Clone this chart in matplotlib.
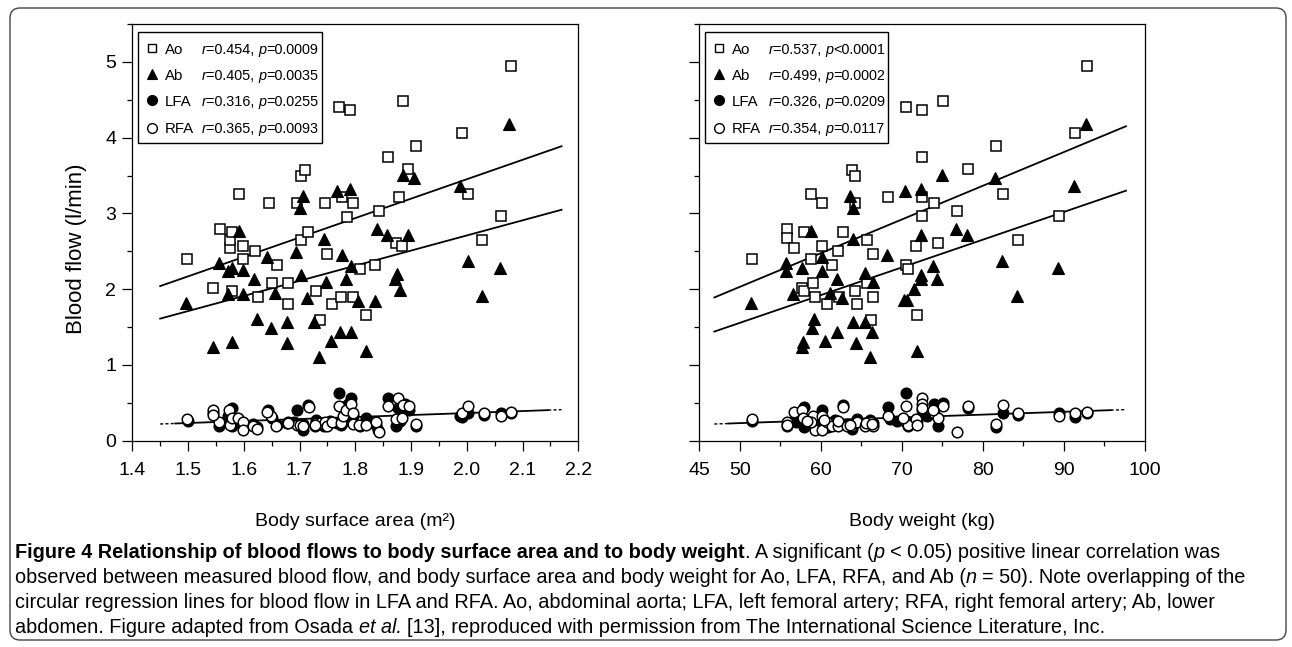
import matplotlib
matplotlib.use("Agg")
import matplotlib.pyplot as plt
from matplotlib.patches import FancyBboxPatch, Rectangle
from matplotlib.transforms import IdentityTransform
from matplotlib.ticker import MultipleLocator, FixedLocator, FormatStrFormatter
import numpy as np

FONT = "Liberation Sans"

# ---- body surface area panel (m2) ----
ao_bsa_x = [1.499, 1.545, 1.558, 1.575, 1.592, 1.599, 1.599, 1.620, 1.625, 1.646,
            1.650, 1.659, 1.679, 1.679, 1.695, 1.703, 1.709, 1.703, 1.716, 1.729,
            1.737, 1.746, 1.750, 1.758, 1.770, 1.790, 1.777, 1.795, 1.786, 1.774,
            1.795, 1.808, 1.820, 1.836, 1.842, 1.858, 1.878, 1.873, 1.883, 1.886,
            1.895, 1.908, 1.991, 2.003, 2.028, 2.061, 2.079, 1.575, 1.579, 1.579]
ao_bsa_y = [2.40, 2.01, 2.79, 2.54, 3.25, 2.57, 2.40, 2.51, 1.90, 3.14,
            2.08, 2.32, 2.08, 1.81, 3.14, 3.49, 3.57, 2.65, 2.75, 1.98,
            1.59, 3.14, 2.47, 1.81, 4.41, 4.37, 3.21, 3.14, 2.95, 1.90,
            1.90, 2.27, 1.66, 2.32, 3.03, 3.74, 3.21, 2.61, 2.57, 4.48,
            3.59, 3.89, 4.06, 3.25, 2.65, 2.96, 4.95, 2.65, 1.98, 2.76]

ab_bsa_x = [1.497, 1.544, 1.556, 1.572, 1.578, 1.572, 1.591, 1.578, 1.598, 1.598,
            1.618, 1.623, 1.642, 1.648, 1.656, 1.677, 1.677, 1.694, 1.702, 1.701,
            1.707, 1.714, 1.726, 1.735, 1.743, 1.747, 1.756, 1.768, 1.772, 1.777,
            1.784, 1.790, 1.793, 1.793, 1.805, 1.819, 1.835, 1.839, 1.856, 1.875,
            1.872, 1.880, 1.885, 1.894, 1.906, 1.988, 2.002, 2.027, 2.060, 2.076]
ab_bsa_y = [1.82, 1.24, 2.35, 2.24, 1.30, 1.93, 2.77, 2.28, 1.93, 2.25,
            2.13, 1.60, 2.42, 1.49, 1.95, 1.57, 1.29, 2.49, 2.19, 3.07,
            3.23, 1.89, 1.57, 1.11, 2.66, 2.10, 1.32, 3.30, 1.44, 2.45,
            2.13, 3.32, 2.31, 1.44, 1.84, 1.19, 1.85, 2.80, 2.72, 2.20,
            2.13, 1.99, 3.51, 2.72, 3.47, 3.36, 2.37, 1.91, 2.28, 4.18]

lfa_bsa_x = [1.545, 1.556, 1.578, 1.578, 1.643, 1.696, 1.707, 1.716, 1.727, 1.770,
             1.792, 1.787, 1.775, 1.819, 1.808, 1.858, 1.876, 1.873, 1.889, 1.892,
             1.908, 1.991, 2.003, 2.062, 1.838, 1.743, 1.677, 1.659, 1.623, 1.599,
             1.589, 1.500, 2.030, 2.079, 1.754, 1.796, 1.880, 1.650, 1.617, 1.690,
             1.707, 1.730, 1.780, 1.825, 1.841, 1.896, 1.572, 1.778, 1.767, 1.987]
lfa_bsa_y = [0.36, 0.19, 0.43, 0.19, 0.41, 0.40, 0.14, 0.47, 0.19, 0.63,
             0.57, 0.49, 0.21, 0.30, 0.19, 0.57, 0.43, 0.19, 0.49, 0.43,
             0.19, 0.31, 0.37, 0.36, 0.21, 0.19, 0.24, 0.21, 0.18, 0.22,
             0.26, 0.26, 0.34, 0.36, 0.26, 0.32, 0.26, 0.30, 0.22, 0.25,
             0.22, 0.27, 0.26, 0.25, 0.14, 0.40, 0.32, 0.44, 0.23, 0.33]

rfa_bsa_x = [1.499, 1.545, 1.556, 1.573, 1.575, 1.579, 1.590, 1.599, 1.599, 1.617,
             1.624, 1.649, 1.658, 1.679, 1.695, 1.700, 1.707, 1.717, 1.729, 1.737,
             1.746, 1.750, 1.758, 1.770, 1.774, 1.778, 1.784, 1.792, 1.796, 1.796,
             1.807, 1.820, 1.837, 1.842, 1.858, 1.877, 1.873, 1.883, 1.886, 1.896,
             1.908, 1.991, 2.003, 2.030, 2.062, 2.079, 1.641, 1.727, 1.545, 1.680]
rfa_bsa_y = [0.28, 0.40, 0.25, 0.40, 0.21, 0.30, 0.30, 0.25, 0.14, 0.19,
             0.15, 0.32, 0.19, 0.25, 0.21, 0.21, 0.19, 0.44, 0.23, 0.24,
             0.25, 0.19, 0.25, 0.46, 0.23, 0.32, 0.40, 0.49, 0.36, 0.22,
             0.21, 0.21, 0.25, 0.11, 0.46, 0.56, 0.28, 0.30, 0.47, 0.46,
             0.22, 0.36, 0.46, 0.36, 0.32, 0.38, 0.38, 0.21, 0.34, 0.24]

# regression lines: (slope, intercept)
bsa_fit_ao = (2.564, -1.677)
bsa_fit_ab = (1.996, -1.283)
bsa_fit_fa = (0.263, -0.161)
bsa_line_span = (1.45, 2.17)
bsa_fa_solid = (1.477, 2.146)
bsa_r = ["0.454", "0.405", "0.316", "0.365"]
bsa_p = ["=0.0009", "=0.0035", "=0.0255", "=0.0093"]

# ---- body weight panel (kg) ----
ao_bw_x = [51.54, 55.86, 55.86, 56.72, 57.92, 57.63, 57.92, 58.74, 58.74, 59.07,
           59.31, 60.18, 60.18, 61.33, 60.71, 62.15, 62.19, 62.77, 63.88, 64.17,
           64.17, 64.21, 64.50, 65.65, 65.65, 66.47, 66.47, 66.18, 68.24, 70.50,
           70.50, 70.79, 71.70, 71.90, 72.48, 72.48, 72.48, 72.48, 73.96, 74.49,
           75.11, 76.76, 78.20, 81.61, 82.52, 84.28, 89.38, 91.36, 92.80]
ao_bw_y = [2.40, 2.79, 2.68, 2.54, 2.76, 2.01, 1.98, 3.25, 2.40, 2.08,
           1.90, 3.14, 2.57, 2.32, 1.81, 2.51, 1.90, 2.75, 3.57, 3.49,
           3.14, 1.98, 1.81, 2.65, 2.08, 2.47, 1.90, 1.59, 3.21, 4.41,
           2.32, 2.27, 2.57, 1.66, 4.37, 3.74, 3.21, 2.96, 3.14, 2.61,
           4.48, 3.03, 3.59, 3.89, 3.25, 2.65, 2.96, 4.06, 4.95]

ab_bw_x = [51.38, 55.70, 55.70, 57.63, 57.83, 57.63, 56.52, 58.74, 58.86, 59.15,
           60.10, 60.10, 60.51, 61.13, 62.03, 62.03, 62.65, 63.59, 64.00, 64.00,
           64.00, 64.33, 65.44, 65.44, 66.06, 66.31, 66.47, 68.12, 70.38, 70.30,
           70.67, 71.53, 71.82, 72.35, 72.35, 72.35, 72.35, 73.79, 74.37, 74.98,
           76.67, 78.07, 81.49, 82.39, 84.16, 89.30, 91.28, 92.72]
ab_bw_y = [1.82, 2.35, 2.24, 1.24, 1.30, 2.28, 1.93, 2.77, 1.49, 1.60,
           2.24, 2.43, 1.32, 1.95, 2.13, 1.43, 1.89, 3.23, 3.07, 2.66,
           1.57, 1.29, 2.21, 1.57, 1.11, 1.44, 2.10, 2.45, 3.30, 1.86,
           1.86, 2.00, 1.19, 3.32, 2.72, 2.19, 2.13, 2.31, 2.13, 3.51,
           2.80, 2.72, 3.47, 2.37, 1.91, 2.28, 3.36, 4.18]

lfa_bw_x = [55.86, 57.92, 57.92, 56.68, 60.18, 60.18, 62.77, 63.88, 68.24, 70.50,
            70.79, 73.96, 74.49, 75.11, 78.20, 81.61, 82.52, 89.38, 91.36, 58.74,
            60.92, 62.15, 65.44, 66.47, 51.54, 59.07, 64.50, 71.70, 72.48, 84.28,
            92.80, 56.89, 70.50, 71.90, 73.05, 61.74, 63.18, 66.06, 68.53, 69.35]
lfa_bw_y = [0.19, 0.44, 0.18, 0.26, 0.40, 0.23, 0.47, 0.15, 0.44, 0.63,
            0.19, 0.49, 0.19, 0.50, 0.43, 0.18, 0.37, 0.37, 0.31, 0.22,
            0.18, 0.23, 0.23, 0.23, 0.26, 0.26, 0.28, 0.25, 0.41, 0.34,
            0.36, 0.25, 0.26, 0.26, 0.32, 0.27, 0.22, 0.27, 0.28, 0.26]

rfa_bw_x = [51.54, 55.86, 56.72, 57.63, 57.83, 59.07, 59.28, 60.18, 60.18, 60.71,
            61.33, 62.15, 62.15, 62.77, 63.88, 64.17, 64.50, 65.44, 66.18, 66.47,
            68.24, 70.50, 70.50, 70.79, 71.70, 71.90, 72.48, 72.48, 72.48, 73.96,
            74.49, 75.11, 76.76, 78.20, 81.61, 82.52, 84.28, 89.38, 91.36, 92.80,
            58.74, 55.78, 65.57, 73.88, 70.17, 63.18, 60.39, 58.25, 63.59, 66.27]
rfa_bw_y = [0.28, 0.25, 0.38, 0.40, 0.30, 0.32, 0.14, 0.32, 0.14, 0.25,
            0.19, 0.19, 0.26, 0.44, 0.19, 0.23, 0.25, 0.19, 0.25, 0.19,
            0.32, 0.46, 0.25, 0.21, 0.28, 0.21, 0.57, 0.49, 0.43, 0.36,
            0.30, 0.46, 0.11, 0.46, 0.22, 0.47, 0.36, 0.32, 0.36, 0.38,
            0.25, 0.21, 0.24, 0.41, 0.30, 0.19, 0.27, 0.26, 0.21, 0.22]

bw_fit_ao = (0.04449, -0.194)
bw_fit_ab = (0.03661, -0.275)
bw_fit_fa = (0.00374, 0.045)
bw_line_span = (46.85, 97.65)
bw_fa_solid = (48.6, 95.76)
bw_r = ["0.537", "0.499", "0.326", "0.354"]
bw_p = ["<0.0001", "=0.0002", "=0.0209", "=0.0117"]

series_names = ["Ao", "Ab", "LFA", "RFA"]

caption_lines = [
    [("Figure 4 Relationship of blood flows to body surface area and to body weight", "normal", "bold"),
     (". A significant (", "normal", "normal"), ("p ", "italic", "normal"),
     ("< 0.05) positive linear correlation was", "normal", "normal")],
    [("observed between measured blood flow, and body surface area and body weight for Ao, LFA, RFA, and Ab (", "normal", "normal"),
     ("n ", "italic", "normal"), ("= 50). Note overlapping of the", "normal", "normal")],
    [("circular regression lines for blood flow in LFA and RFA. Ao, abdominal aorta; LFA, left femoral artery; RFA, right femoral artery; Ab, lower", "normal", "normal")],
    [("abdomen. Figure adapted from Osada ", "normal", "normal"), ("et al. ", "italic", "normal"),
     ("[13], reproduced with permission from The International Science Literature, Inc.", "normal", "normal")],
]

W, H = 1292, 647
fig = plt.figure(figsize=(W / 100, H / 100), dpi=100)
fig.patch.set_facecolor("white")
renderer = fig.canvas.get_renderer()

styles = {
    "Ao": dict(marker="s", ms=7.2, mfc="white", mec="black", mew=1.1),
    "Ab": dict(marker="^", ms=8.0, mfc="black", mec="black", mew=0.8),
    "LFA": dict(marker="o", ms=7.6, mfc="black", mec="black", mew=1.1),
    "RFA": dict(marker="o", ms=7.6, mfc="white", mec="black", mew=1.1),
}
key_styles = {
    "Ao": dict(marker="s", ms=6.4, mfc="white", mec="black", mew=1.0),
    "Ab": dict(marker="^", ms=7.4, mfc="black", mec="black", mew=0.8),
    "LFA": dict(marker="o", ms=7.0, mfc="black", mec="black", mew=1.0),
    "RFA": dict(marker="o", ms=7.0, mfc="white", mec="black", mew=1.0),
}


def advance(s, size, style="normal", weight="normal"):
    # width of a string including spaces, measured between two guard bars
    t1 = fig.text(0, 0, "|" + s + "|", fontsize=size, family=FONT, style=style, weight=weight)
    t2 = fig.text(0, 0, "||", fontsize=size, family=FONT, style=style, weight=weight)
    w = t1.get_window_extent(renderer).width - t2.get_window_extent(renderer).width
    t1.remove()
    t2.remove()
    return w


def draw_runs(x, y, runs, size, transform, px_width, zorder=6):
    for s, style, weight in runs:
        fig.text(x, y, s, fontsize=size, family=FONT, style=style, weight=weight,
                 transform=transform, ha="left", va="baseline", zorder=zorder)
        x += advance(s, size, style, weight) / px_width


def panel(ax, data, fits, span, fa_solid, rvals, pvals):
    xs = np.linspace(span[0], span[1], 50)
    for slope, icpt in fits[:2]:
        ax.plot(xs, slope * xs + icpt, color="black", lw=1.3, zorder=2)
    slope, icpt = fits[2]
    xs = np.linspace(fa_solid[0], fa_solid[1], 50)
    ax.plot(xs, slope * xs + icpt, color="black", lw=1.3, zorder=2)
    for a, b in [(span[0], fa_solid[0]), (fa_solid[1], span[1])]:
        xe = np.array([a, b])
        ax.plot(xe, slope * xe + icpt, color="black", lw=1.0, ls=(0, (2.2, 1.6)), zorder=2)

    for name in series_names:
        x, y = data[name]
        ax.plot(x, y, ls="none", zorder=3, **styles[name])

    # key box
    ax.add_patch(Rectangle((0.0135, 0.714), 0.411, 0.267, transform=ax.transAxes,
                           fc="white", ec="black", lw=1.0, zorder=5))
    rows = [0.9417, 0.880, 0.8176, 0.7505]
    base_off = 5.5 / ax.bbox.height
    for name, yy, rv, pv in zip(series_names, rows, rvals, pvals):
        ax.plot([0.045], [yy], transform=ax.transAxes, ls="none", zorder=6, clip_on=False,
                **key_styles[name])
        ax.text(0.0735, yy - base_off, name, transform=ax.transAxes, fontsize=10.8,
                family=FONT, ha="left", va="baseline", zorder=6)
        draw_runs(0.155, yy - base_off,
                  [("r", "italic", "normal"), ("=" + rv + ", ", "normal", "normal"),
                   ("p", "italic", "normal"), (pv, "normal", "normal")],
                  10.4, ax.transAxes, ax.bbox.width)

    ax.set_ylim(0, 5.5)
    ax.yaxis.set_major_locator(MultipleLocator(1))
    ax.yaxis.set_minor_locator(MultipleLocator(0.5))
    ax.tick_params(which="both", direction="out", width=0.9, labelsize=14)
    ax.tick_params(which="major", length=7)
    ax.tick_params(which="minor", length=3.5)
    ax.tick_params(axis="x", pad=8)
    ax.tick_params(axis="y", pad=4.5)
    for lab in ax.get_xticklabels() + ax.get_yticklabels():
        lab.set_family(FONT)
    for sp in ax.spines.values():
        sp.set_linewidth(0.9)


ax1 = fig.add_axes([132.3 / W, (H - 440.7) / H, 446 / W, 416.7 / H])
ax2 = fig.add_axes([699.3 / W, (H - 440.7) / H, 445.7 / W, 416.7 / H])

ax1.set_xlim(1.4, 2.2)
ax1.xaxis.set_major_locator(MultipleLocator(0.1))
ax1.xaxis.set_minor_locator(MultipleLocator(0.05))
ax1.xaxis.set_major_formatter(FormatStrFormatter("%.1f"))

ax2.set_xlim(45, 100)
ax2.xaxis.set_major_locator(FixedLocator([45, 50, 60, 70, 80, 90, 100]))
ax2.xaxis.set_minor_locator(FixedLocator([55, 65, 75, 85, 95]))

panel(ax1,
      {"Ao": (ao_bsa_x, ao_bsa_y), "Ab": (ab_bsa_x, ab_bsa_y),
       "LFA": (lfa_bsa_x, lfa_bsa_y), "RFA": (rfa_bsa_x, rfa_bsa_y)},
      [bsa_fit_ao, bsa_fit_ab, bsa_fit_fa], bsa_line_span, bsa_fa_solid, bsa_r, bsa_p)
panel(ax2,
      {"Ao": (ao_bw_x, ao_bw_y), "Ab": (ab_bw_x, ab_bw_y),
       "LFA": (lfa_bw_x, lfa_bw_y), "RFA": (rfa_bw_x, rfa_bw_y)},
      [bw_fit_ao, bw_fit_ab, bw_fit_fa], bw_line_span, bw_fa_solid, bw_r, bw_p)
ax2.tick_params(labelleft=False)

ax1.set_ylabel("Blood flow (l/min)", fontsize=16, family=FONT)
ax1.yaxis.set_label_coords(-0.125, 0.46)
ax1.yaxis.label.set_va("center")

ax1.set_xlabel("Body surface area (m²)", fontsize=14, family=FONT)
ax2.set_xlabel("Body weight (kg)", fontsize=14, family=FONT)
for ax in (ax1, ax2):
    ax.xaxis.set_label_coords(0.5, -0.195)
    ax.xaxis.label.set_va("center")

# caption
for i, runs in enumerate(caption_lines):
    yb = (H - (558 + 25 * i)) / H
    draw_runs(15 / W, yb, runs, 14.3, fig.transFigure, W)

# rounded frame round the whole figure
fig.add_artist(FancyBboxPatch((10, 7), 1276, 632, boxstyle="round,pad=0,rounding_size=10",
                              transform=IdentityTransform(), fill=False, ec="#444444", lw=1.0))

fig.savefig("out.png", dpi=100)
